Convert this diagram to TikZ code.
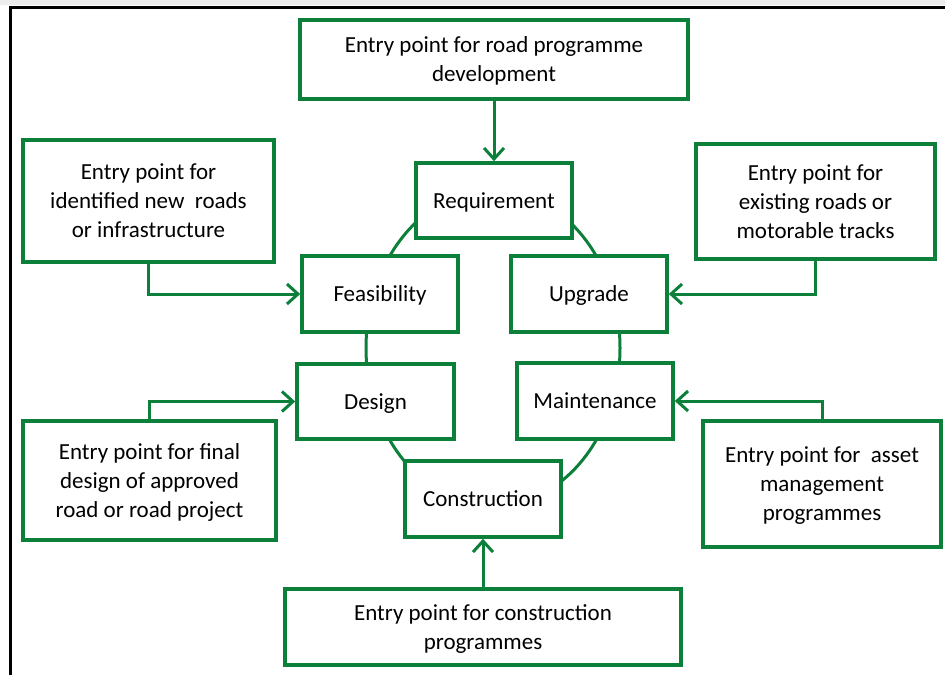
\documentclass[tikz,border=0pt]{standalone}
\usepackage{fontspec}
\setmainfont{Carlito}
\usetikzlibrary{arrows.meta}
\definecolor{boxgreen}{RGB}{12,128,58}
\tikzset{
  box/.style={draw=boxgreen, line width=3.6pt, fill=white, rectangle, align=center, inner sep=2pt, text=black,
    text depth=0pt, font=\fontsize{23}{29}\selectfont},
  arr/.style={draw=boxgreen, line width=3pt, -{Straight Barb[length=11pt,width=20pt]}},
  ring/.style={draw=boxgreen, line width=3pt}
}
\begin{document}
\begin{tikzpicture}[x=1pt,y=-1pt]
\useasboundingbox (0,0) rectangle (945,675);
\fill[black!7] (0,0) rectangle (945,5);
\draw[line width=3pt] (10,675) -- (10,7) -- (945,7);
% ring behind the cycle
\draw[ring] (493,348) ellipse [x radius=127, y radius=158];
% cycle nodes
\node[box, minimum width=156pt, minimum height=75pt] (req) at (494,200.5) {Requirement};
\node[box, minimum width=156pt, minimum height=76pt] (feas) at (380,294) {Feasibility};
\node[box, minimum width=156pt, minimum height=76pt] (upg) at (589,294) {Upgrade};
\node[box, minimum width=157pt, minimum height=75pt] (des) at (375.5,401.5) {Design};
\node[box, minimum width=156pt, minimum height=76pt] (mnt) at (595,401) {Maintenance};
\node[box, minimum width=156pt, minimum height=76pt] (con) at (483,499) {Construction};
% entry points
\node[box, minimum width=388pt, minimum height=79pt] (top) at (494,59.5) {Entry point for road programme\\development};
\node[box, minimum width=251pt, minimum height=122pt] (newr) at (148.5,201) {Entry point for\\identified new\ \ roads\\or infrastructure};
\node[box, minimum width=239pt, minimum height=115pt] (exr) at (815.5,201.5) {Entry point for\\existing roads or\\motorable tracks};
\node[box, minimum width=253pt, minimum height=119pt] (fd) at (149.5,480.5) {Entry point for final\\design of approved\\road or road project};
\node[box, minimum width=238pt, minimum height=126pt] (asset) at (822,484) {Entry point for\ \ asset\\management\\programmes};
\node[box, minimum width=396pt, minimum height=76pt] (cp) at (483,627) {Entry point for construction\\programmes};
% connectors
\draw[arr] (top.south) -- (req.north);
\draw[arr] (newr.south) |- (feas.west);
\draw[arr] (exr.south) |- (upg.east);
\draw[arr] (fd.north) |- (des.west);
\draw[arr] (asset.north) |- (mnt.east);
\draw[arr] (cp.north) -- (con.south);
\end{tikzpicture}
\end{document}
